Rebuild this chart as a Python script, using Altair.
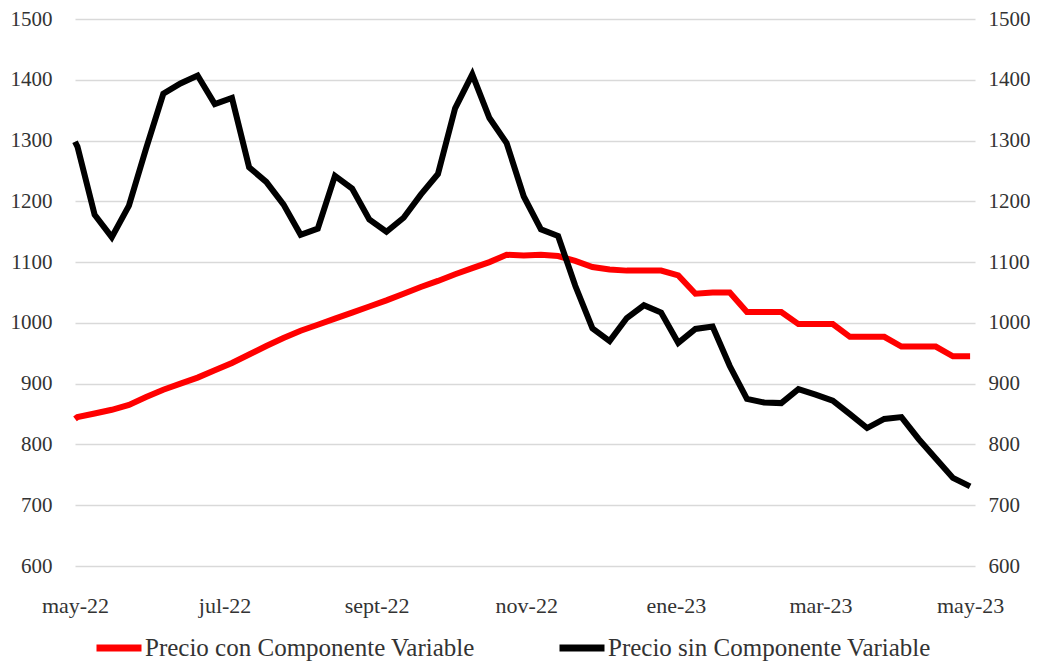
import altair as alt
import pandas as pd

# ---- data (weekly prices) ----
dates = ["2022-05-01"] + [d.strftime("%Y-%m-%d") for d in pd.date_range("2022-05-02", periods=53, freq="7D")]

con_variable = [842, 845, 851, 857, 865, 878, 890, 900, 910, 922, 934,
                948, 962, 975, 987, 997, 1007, 1017, 1027, 1037, 1048,
                1059, 1069, 1080, 1090, 1100, 1112, 1111, 1112, 1110, 1102,
                1092, 1088, 1086, 1086, 1086, 1078, 1048, 1050, 1050, 1018,
                1018, 1018, 998, 998, 998, 977, 977, 977, 961, 961,
                961, 945, 945]

sin_variable = [1298, 1290, 1178, 1141, 1193, 1287, 1377, 1394, 1407, 1360, 1370,
                1256, 1232, 1195, 1145, 1155, 1242, 1221, 1170, 1150, 1173,
                1211, 1245, 1353, 1409, 1337, 1296, 1208, 1154, 1143, 1061,
                991, 970, 1008, 1029, 1017, 967, 990, 994, 929, 875,
                869, 868, 891, 882, 872, 850, 827, 842, 845, 809,
                777, 745, 731]

series_names = ["Precio con Componente Variable", "Precio sin Componente Variable"]
series_colors = ["#ff0000", "#000000"]
y_ticks = list(range(600, 1501, 100))
x_ticks = [(2022, 5), (2022, 7), (2022, 9), (2022, 11), (2023, 1), (2023, 3), (2023, 5)]
meses = ["ene", "feb", "mar", "abr", "may", "jun", "jul", "ago", "sept", "oct", "nov", "dic"]

df = pd.DataFrame({
    "fecha": dates * 2,
    "precio": con_variable + sin_variable,
    "serie": [series_names[0]] * len(dates) + [series_names[1]] * len(dates),
})

FONT = "Liberation Serif"
LABEL_COLOR = "#333333"

month_array = "[" + ",".join(f"'{m}'" for m in meses) + "]"
x_enc = alt.X(
    "fecha:T",
    scale=alt.Scale(
        type="utc", nice=False,
        domain=[alt.DateTime(year=2022, month=5, date=1, utc=True),
                alt.DateTime(year=2023, month=5, date=3, utc=True)],
    ),
    axis=alt.Axis(
        values=[alt.DateTime(year=y, month=m, date=1, utc=True) for y, m in x_ticks],
        labelExpr=month_array + "[utcmonth(datum.value)] + '-' + utcFormat(datum.value, '%y')",
        title=None, grid=False, domain=False, ticks=False, tickSize=0,
        labelPadding=29, labelFont=FONT, labelFontSize=22, labelColor=LABEL_COLOR,
        labelFlush=False, labelOverlap=False,
    ),
)

color_enc = alt.Color(
    "serie:N",
    scale=alt.Scale(domain=series_names, range=series_colors),
    legend=alt.Legend(
        title=None, orient="none", direction="horizontal",
        legendX=18, legendY=603,
        symbolType="stroke", symbolSize=2025, symbolStrokeWidth=7,
        labelFont=FONT, labelFontSize=25, labelColor=LABEL_COLOR,
        labelOffset=0, columnPadding=70, labelLimit=600,
    ),
)

y_scale = alt.Scale(domain=[600, 1500], nice=False, zero=False)

left = alt.Chart(df).transform_filter(
    alt.datum.serie == series_names[0]
).mark_line(strokeWidth=6).encode(
    x=x_enc,
    y=alt.Y("precio:Q", scale=y_scale, axis=alt.Axis(
        orient="left", values=y_ticks, format="d", title=None, grid=True,
        gridColor="#d9d9d9", gridWidth=1.5, domain=False, ticks=False, tickSize=0,
        labelPadding=23, labelFont=FONT, labelFontSize=21, labelColor=LABEL_COLOR,
    )),
    color=color_enc,
)

right = alt.Chart(df).transform_filter(
    alt.datum.serie == series_names[1]
).mark_line(strokeWidth=6).encode(
    x=x_enc,
    y=alt.Y("precio:Q", scale=y_scale, axis=alt.Axis(
        orient="right", values=y_ticks, format="d", title=None, grid=False,
        domain=False, ticks=False, tickSize=0,
        labelPadding=13, labelFont=FONT, labelFontSize=21, labelColor=LABEL_COLOR,
    )),
    color=color_enc,
)

chart = alt.layer(left, right).resolve_scale(y="independent").properties(
    width=900, height=547,
    background="white",
    autosize=alt.AutoSizeParams(type="none"),
    padding={"left": 67, "top": 11, "right": 55, "bottom": 96},
).configure_view(stroke=None)

chart.save("out.html", embed_options={"renderer": "svg", "actions": False})
